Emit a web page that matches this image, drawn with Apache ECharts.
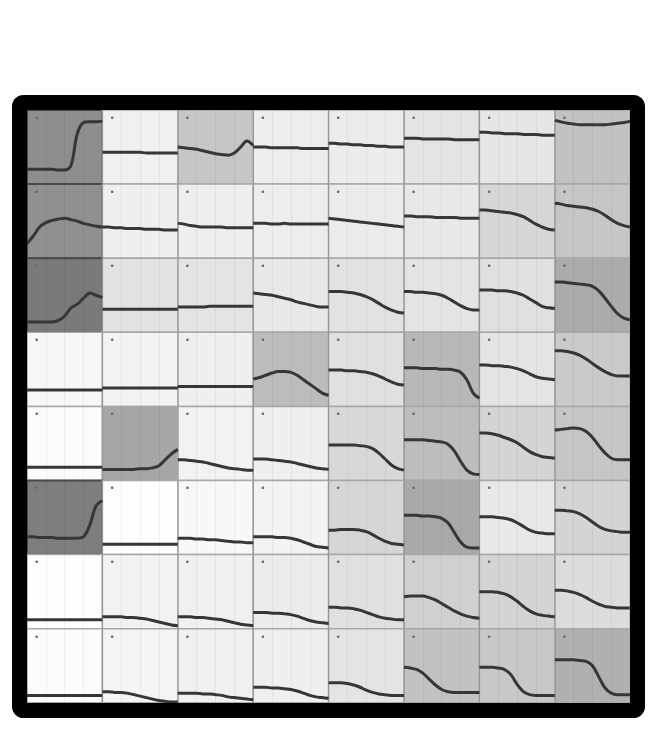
<!DOCTYPE html>
<html><head><meta charset="utf-8">
<script src="https://cdn.jsdelivr.net/npm/echarts@6/dist/echarts.min.js"></script>
<style>html,body{margin:0;padding:0;background:#fff}#c{width:659px;height:748px}</style>
</head><body><div id="c"></div>
<script>
// x positions (13 samples per small chart)
const xSteps = ['0','1','2','3','4','5','6','7','8','9','10','11','12'];

// background intensity of each cell (gray level 0-255), row by row
const cellShade = [
  [142,240,198,237,236,228,230,194],
  [144,239,238,237,235,232,214,198],
  [122,226,228,232,226,228,224,171],
  [247,243,239,188,224,184,228,202],
  [251,166,242,239,216,189,212,198],
  [126,253,248,243,214,169,232,212],
  [254,242,240,236,224,208,212,220],
  [252,244,240,239,228,194,200,176]
];

const lineRow0 = [
  [0.2,0.2,0.2,0.2,0.2,0.19,0.19,0.25,0.68,0.83,0.84,0.84,0.85],
  [0.43,0.43,0.43,0.43,0.43,0.43,0.43,0.42,0.42,0.42,0.42,0.42,0.42],
  [0.5,0.49,0.48,0.47,0.45,0.43,0.41,0.4,0.39,0.42,0.5,0.58,0.52],
  [0.5,0.5,0.5,0.49,0.49,0.49,0.49,0.49,0.48,0.48,0.48,0.48,0.48],
  [0.55,0.55,0.54,0.54,0.53,0.53,0.52,0.52,0.51,0.51,0.5,0.5,0.5],
  [0.62,0.62,0.62,0.61,0.61,0.61,0.61,0.61,0.6,0.6,0.6,0.6,0.6],
  [0.7,0.7,0.69,0.69,0.68,0.68,0.68,0.67,0.67,0.67,0.66,0.66,0.66],
  [0.86,0.84,0.82,0.81,0.8,0.8,0.8,0.8,0.8,0.81,0.82,0.83,0.85]
];
const lineRow1 = [
  [0.2,0.3,0.42,0.48,0.51,0.53,0.54,0.52,0.5,0.47,0.45,0.43,0.42],
  [0.42,0.42,0.41,0.41,0.4,0.4,0.4,0.39,0.39,0.39,0.38,0.38,0.38],
  [0.47,0.46,0.44,0.43,0.42,0.42,0.42,0.42,0.41,0.41,0.41,0.41,0.41],
  [0.47,0.47,0.47,0.46,0.46,0.47,0.46,0.46,0.46,0.46,0.46,0.46,0.46],
  [0.54,0.53,0.52,0.51,0.5,0.49,0.48,0.47,0.46,0.45,0.44,0.43,0.42],
  [0.57,0.57,0.56,0.56,0.56,0.55,0.55,0.55,0.55,0.54,0.54,0.54,0.54],
  [0.65,0.65,0.64,0.63,0.62,0.61,0.59,0.56,0.51,0.46,0.42,0.39,0.38],
  [0.74,0.73,0.71,0.7,0.69,0.68,0.66,0.63,0.58,0.52,0.47,0.44,0.42]
];
const lineRow2 = [
  [0.14,0.14,0.14,0.14,0.14,0.16,0.22,0.33,0.38,0.46,0.53,0.5,0.47],
  [0.31,0.31,0.31,0.31,0.31,0.31,0.31,0.31,0.31,0.31,0.31,0.31,0.31],
  [0.34,0.34,0.34,0.34,0.34,0.35,0.35,0.35,0.35,0.35,0.35,0.35,0.35],
  [0.53,0.52,0.51,0.5,0.48,0.46,0.44,0.41,0.39,0.37,0.35,0.34,0.34],
  [0.55,0.55,0.55,0.54,0.53,0.51,0.48,0.44,0.39,0.34,0.3,0.27,0.26],
  [0.55,0.55,0.54,0.54,0.53,0.52,0.5,0.46,0.41,0.36,0.32,0.3,0.3],
  [0.57,0.57,0.57,0.56,0.56,0.55,0.53,0.5,0.45,0.4,0.35,0.33,0.32],
  [0.68,0.68,0.67,0.66,0.65,0.64,0.62,0.56,0.46,0.35,0.25,0.19,0.17]
];
const lineRow3 = [
  [0.22,0.22,0.22,0.22,0.22,0.22,0.22,0.22,0.22,0.22,0.22,0.22,0.22],
  [0.25,0.25,0.25,0.25,0.25,0.25,0.25,0.25,0.25,0.25,0.25,0.25,0.25],
  [0.27,0.27,0.27,0.27,0.27,0.27,0.27,0.27,0.27,0.27,0.27,0.27,0.27],
  [0.37,0.39,0.42,0.45,0.47,0.47,0.46,0.42,0.36,0.3,0.24,0.18,0.15],
  [0.49,0.49,0.49,0.48,0.48,0.47,0.46,0.44,0.41,0.37,0.33,0.3,0.29],
  [0.52,0.52,0.52,0.51,0.51,0.51,0.5,0.5,0.49,0.46,0.36,0.18,0.11],
  [0.56,0.56,0.55,0.55,0.54,0.53,0.51,0.48,0.44,0.4,0.38,0.37,0.36],
  [0.75,0.75,0.74,0.72,0.69,0.64,0.58,0.52,0.47,0.43,0.41,0.41,0.41]
];
const lineRow4 = [
  [0.18,0.18,0.18,0.18,0.18,0.18,0.18,0.18,0.18,0.18,0.18,0.18,0.18],
  [0.15,0.15,0.15,0.15,0.15,0.15,0.16,0.16,0.17,0.2,0.28,0.36,0.42],
  [0.28,0.28,0.27,0.26,0.25,0.23,0.21,0.19,0.17,0.16,0.15,0.14,0.14],
  [0.29,0.29,0.29,0.28,0.27,0.26,0.25,0.23,0.21,0.19,0.17,0.16,0.15],
  [0.48,0.48,0.48,0.48,0.48,0.47,0.46,0.43,0.37,0.29,0.21,0.16,0.14],
  [0.55,0.55,0.55,0.55,0.54,0.53,0.52,0.49,0.4,0.26,0.14,0.09,0.08],
  [0.64,0.64,0.63,0.61,0.58,0.55,0.51,0.45,0.39,0.35,0.32,0.31,0.3],
  [0.68,0.69,0.7,0.71,0.7,0.66,0.58,0.47,0.37,0.3,0.28,0.28,0.28]
];
const lineRow5 = [
  [0.24,0.24,0.23,0.23,0.23,0.22,0.22,0.22,0.22,0.24,0.4,0.66,0.73],
  [0.14,0.14,0.14,0.14,0.14,0.14,0.14,0.14,0.14,0.14,0.14,0.14,0.14],
  [0.22,0.22,0.22,0.21,0.21,0.2,0.2,0.19,0.18,0.17,0.17,0.16,0.16],
  [0.24,0.24,0.24,0.24,0.23,0.23,0.22,0.2,0.17,0.14,0.11,0.1,0.09],
  [0.33,0.33,0.34,0.34,0.34,0.33,0.31,0.27,0.22,0.18,0.15,0.14,0.13],
  [0.53,0.53,0.53,0.52,0.52,0.51,0.49,0.43,0.3,0.17,0.1,0.09,0.09],
  [0.51,0.51,0.51,0.5,0.49,0.47,0.43,0.38,0.33,0.3,0.29,0.28,0.28],
  [0.6,0.6,0.59,0.58,0.55,0.5,0.44,0.38,0.34,0.32,0.31,0.3,0.3]
];
const lineRow6 = [
  [0.12,0.12,0.12,0.12,0.12,0.12,0.12,0.12,0.12,0.12,0.12,0.12,0.12],
  [0.16,0.16,0.16,0.16,0.15,0.15,0.14,0.13,0.11,0.09,0.07,0.05,0.04],
  [0.16,0.16,0.16,0.15,0.15,0.14,0.13,0.12,0.1,0.08,0.06,0.05,0.04],
  [0.22,0.22,0.22,0.21,0.21,0.2,0.19,0.17,0.14,0.11,0.09,0.08,0.07],
  [0.29,0.29,0.28,0.28,0.27,0.25,0.22,0.19,0.16,0.14,0.13,0.12,0.12],
  [0.43,0.44,0.44,0.44,0.42,0.39,0.34,0.29,0.24,0.2,0.17,0.15,0.14],
  [0.5,0.5,0.5,0.49,0.47,0.43,0.37,0.3,0.24,0.2,0.18,0.17,0.16],
  [0.52,0.52,0.51,0.49,0.46,0.42,0.37,0.33,0.3,0.29,0.28,0.28,0.28]
];
const lineRow7 = [
  [0.1,0.1,0.1,0.1,0.1,0.1,0.1,0.1,0.1,0.1,0.1,0.1,0.1],
  [0.15,0.15,0.14,0.14,0.13,0.11,0.09,0.07,0.05,0.03,0.02,0.01,0.01],
  [0.13,0.13,0.13,0.13,0.12,0.12,0.11,0.1,0.08,0.07,0.06,0.05,0.04],
  [0.21,0.21,0.21,0.2,0.2,0.19,0.18,0.16,0.13,0.1,0.08,0.07,0.06],
  [0.27,0.27,0.27,0.26,0.24,0.21,0.17,0.14,0.12,0.11,0.1,0.1,0.1],
  [0.48,0.47,0.45,0.4,0.32,0.24,0.18,0.15,0.14,0.14,0.14,0.14,0.14],
  [0.48,0.48,0.48,0.47,0.45,0.38,0.25,0.15,0.11,0.1,0.1,0.1,0.1],
  [0.58,0.58,0.58,0.58,0.57,0.56,0.5,0.35,0.2,0.13,0.11,0.11,0.11]
];

const lineRows = [lineRow0,lineRow1,lineRow2,lineRow3,lineRow4,lineRow5,lineRow6,lineRow7];

const chart = echarts.init(document.getElementById('c'), null, {renderer:'canvas'});
const L0 = 27, T0 = 110, CW = 75.4, CH = 74.1;
const grids = [], xAxes = [], yAxes = [], series = [], titles = [];
function gray(v){ const h = Math.round(v).toString(16).padStart(2,'0'); return '#'+h+h+h; }
for (let r = 0; r < 8; r++) {
  for (let c = 0; c < 8; c++) {
    const i = r*8 + c;
    const shade = cellShade[r][c];
    const dark = shade < 160;
    grids.push({
      left: L0 + c*CW, top: T0 + r*CH, width: CW, height: CH,
      show: true, backgroundColor: gray(shade),
      borderColor: dark ? '#4a4a4a' : '#a8a8a8', borderWidth: dark ? 2 : 1.5
    });
    xAxes.push({
      type:'category', gridIndex:i, data:xSteps, boundaryGap:false,
      axisLine:{show:false}, axisTick:{show:false}, axisLabel:{show:false},
      splitLine:{show:true, interval:2, lineStyle:{color:'rgba(0,0,0,0.05)', width:1}}
    });
    yAxes.push({
      type:'value', gridIndex:i, min:0, max:1,
      axisLine:{show:false}, axisTick:{show:false}, axisLabel:{show:false},
      splitLine:{show:false}
    });
    series.push({
      type:'line', xAxisIndex:i, yAxisIndex:i, data:lineRows[r][c],
      smooth:0.35, symbol:'none', silent:true,
      lineStyle:{color:'#363636', width:3}
    });
    titles.push({
      text:'•', left: L0 + c*CW + 2, top: T0 + r*CH - 1,
      textStyle:{fontSize:9, color:'#6a6a6a', fontWeight:'normal', fontFamily:'DejaVu Sans'}
    });
  }
}

chart.setOption({
  animation:false,
  backgroundColor:'#ffffff',
  title: titles,
  grid: grids,
  xAxis: xAxes,
  yAxis: yAxes,
  series: series,
  graphic: [{
    type:'rect', z:100,
    shape:{x:19.5, y:102.5, width:618, height:608, r:4},
    style:{fill:'none', stroke:'#000000', lineWidth:15}
  }]
});
</script>
</body></html>
